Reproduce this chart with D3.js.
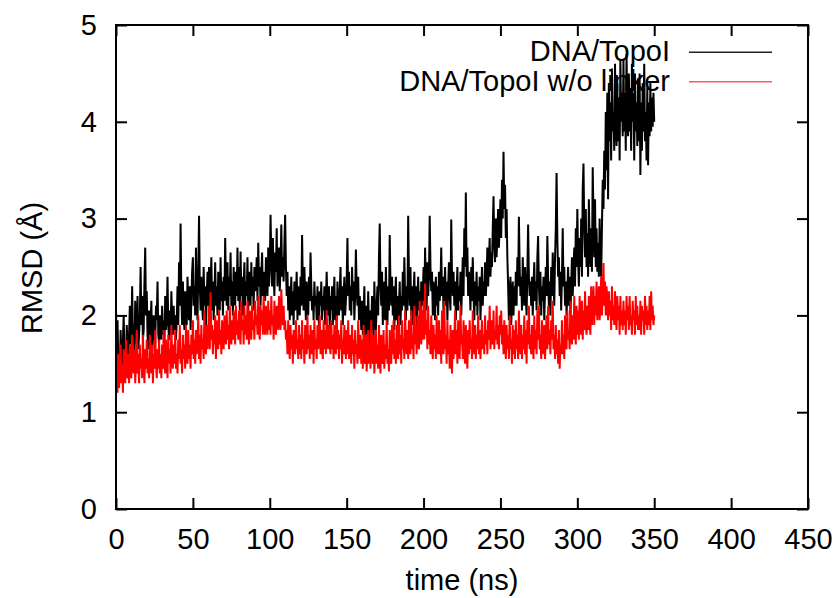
<!DOCTYPE html>
<html>
<head>
<meta charset="utf-8">
<script src="https://cdn.jsdelivr.net/npm/d3@7"></script>
<style>
  body { margin: 0; background: #fff; }
  svg { display: block; font-family: "Liberation Sans", Arial, Helvetica, sans-serif; }
</style>
</head>
<body>
<svg width="840" height="598"></svg>
<script>
// RMSD (Å), one sample every 0.5 ns from 0 to 350 ns (20 values per row = 10 ns)
var dt = 0.5;
var topoI = [
  2.05,1.7,1.95,1.5,1.6,1.4,1.85,1.55,1.45,1.75,2.0,1.6,1.7,1.5,1.9,1.65,1.55,1.8,2.1,1.7,
  1.8,2.3,1.75,1.9,1.6,2.15,1.85,1.7,2.2,1.65,1.8,2.0,2.5,1.9,2.2,1.75,1.85,2.35,2.7,2.0,
  2.25,1.8,1.65,2.05,1.7,1.9,2.15,1.6,1.75,2.0,1.85,1.7,2.1,1.95,2.35,1.8,1.7,2.0,1.85,1.75,
  2.1,1.8,1.95,1.7,2.2,1.85,2.0,2.4,1.9,1.75,2.05,1.8,2.25,1.95,1.8,2.1,1.85,2.0,1.75,1.95,
  2.3,1.9,2.55,2.1,2.95,2.2,1.9,2.35,2.0,1.85,2.25,2.05,1.9,2.4,2.1,1.95,2.3,1.85,2.15,2.45,
  2.6,2.1,2.3,2.0,2.7,2.2,1.95,2.45,3.03,2.3,2.05,2.4,2.15,1.95,2.5,2.1,2.3,1.9,2.2,2.45,
  2.1,2.5,2.0,2.3,2.6,2.05,2.35,1.95,2.2,2.55,2.1,2.3,2.0,2.45,2.2,2.05,2.6,2.15,2.35,2.0,
  2.4,2.15,2.8,2.3,2.1,2.55,2.05,2.4,2.2,2.65,2.1,2.35,2.0,2.5,2.25,2.1,2.45,2.2,2.7,2.15,
  2.5,2.05,2.66,2.2,2.4,2.0,2.3,2.55,2.1,2.35,2.2,2.6,2.05,2.45,2.3,2.1,2.55,2.2,2.4,2.05,
  2.5,2.25,2.35,2.6,2.15,2.75,2.3,2.5,2.1,2.4,2.65,2.2,2.45,2.3,2.15,2.6,2.35,2.2,2.7,2.3,
  2.5,3.04,2.6,2.3,2.8,2.4,2.2,2.65,2.45,2.9,2.3,2.55,2.7,2.25,2.5,2.94,2.4,2.6,2.35,2.75,
  3.04,2.5,2.2,2.45,2.05,2.3,1.95,2.15,2.4,2.0,2.25,1.9,2.35,2.05,2.2,2.45,1.95,2.3,2.1,2.0,
  2.4,2.1,2.83,2.3,2.05,2.5,2.2,1.95,2.35,2.1,2.0,2.4,2.15,2.65,2.3,2.05,2.2,1.95,2.35,2.1,
  2.2,1.95,2.3,2.05,1.9,2.25,2.1,2.35,1.95,2.2,2.05,2.3,1.9,2.15,2.45,2.1,2.0,2.3,1.85,2.2,
  2.05,2.3,1.9,2.15,2.4,1.95,2.2,1.85,2.35,2.1,2.0,2.25,2.5,2.05,2.3,1.9,2.2,2.4,2.0,2.15,
  2.35,2.8,2.2,2.45,2.05,2.3,2.0,2.5,2.15,2.35,1.95,2.2,2.68,2.3,2.1,2.4,1.95,2.2,2.05,1.85,
  2.15,1.8,2.0,2.3,1.75,1.95,2.1,1.8,2.25,1.9,1.7,2.05,1.85,2.2,1.95,1.75,2.35,2.0,1.85,2.1,
  2.3,2.0,2.6,2.95,2.3,2.1,2.45,1.9,2.2,2.35,1.95,2.5,2.1,1.9,2.3,2.05,2.83,2.3,2.1,2.4,
  2.0,2.3,1.85,2.15,2.4,1.95,2.2,1.8,2.1,2.35,1.9,2.2,2.05,2.45,2.1,2.6,2.2,1.95,2.3,2.05,
  3.03,2.4,2.1,2.5,2.0,2.3,1.9,2.2,2.45,2.0,2.3,1.85,2.15,2.4,2.05,2.25,1.95,2.35,2.1,2.2,
  2.5,2.1,2.7,2.3,2.05,2.55,2.2,2.4,3.03,2.5,2.25,2.45,2.0,2.35,2.15,1.95,2.4,2.1,2.3,2.0,
  2.45,2.15,2.3,2.7,2.2,2.4,2.0,2.25,2.5,2.1,2.35,1.95,2.3,2.55,2.2,2.05,2.99,2.4,2.2,2.45,
  2.1,2.35,1.95,2.25,2.5,2.05,2.3,2.15,2.45,2.0,2.3,2.6,2.2,2.9,2.5,3.27,2.4,2.7,2.2,2.45,
  2.3,2.05,2.5,2.15,2.6,2.2,1.95,2.35,2.1,2.45,2.0,2.3,2.15,2.4,1.95,2.25,2.5,2.1,2.35,2.2,
  2.55,2.2,2.4,2.7,2.3,2.55,2.8,2.4,2.65,2.5,2.9,3.23,2.7,2.55,3.0,2.6,2.85,3.1,2.7,2.95,
  3.2,2.8,3.4,3.0,3.69,3.1,3.35,2.8,3.1,2.6,2.3,1.95,2.25,2.4,1.9,2.15,2.35,2.0,2.3,2.1,
  2.45,2.1,2.6,2.3,3.02,2.5,2.2,2.4,2.05,2.6,2.3,2.1,2.5,2.2,2.0,2.45,2.94,2.4,2.2,2.35,
  2.1,2.4,2.0,2.3,2.55,2.15,2.35,2.05,2.6,2.82,2.3,2.1,2.45,2.0,2.3,2.15,2.4,1.95,2.25,2.5,
  2.2,2.82,2.4,2.1,2.35,2.0,2.5,2.2,2.65,2.35,2.1,2.6,2.9,3.47,2.8,2.4,2.6,2.2,2.45,2.05,
  2.4,2.9,2.3,2.5,2.1,2.35,2.0,2.25,2.5,2.1,2.4,2.0,2.3,2.6,2.2,2.45,2.7,2.3,2.9,2.5,
  3.1,2.6,2.3,2.8,2.5,3.0,2.4,3.3,3.57,2.9,2.6,3.1,2.5,2.85,2.4,3.2,2.7,2.5,2.9,2.45,
  3.53,3.0,2.6,3.2,2.5,2.9,2.45,2.75,2.4,3.0,2.6,2.4,2.9,3.4,3.1,3.7,3.3,4.1,3.5,4.3,
  3.2,4.4,3.8,4.2,3.6,4.55,3.9,4.1,3.7,4.6,4.0,3.75,4.4,3.8,4.25,3.6,4.65,4.0,4.3,3.85,
  4.65,3.9,4.3,3.7,4.7,4.1,3.85,4.5,3.9,4.35,3.7,4.6,4.0,4.3,3.6,4.5,3.9,4.2,3.75,4.45,
  3.8,4.5,3.45,4.2,3.7,4.4,3.9,4.6,3.8,4.1,3.6,4.35,3.55,4.2,3.85,4.4,3.9,4.25,3.95,4.3,
  4.0
];
var noLinker = [
  1.55,1.3,1.2,1.6,1.25,1.45,1.7,1.3,1.5,1.2,1.65,1.4,1.3,1.75,1.45,1.35,1.6,1.3,1.7,1.45,
  1.35,1.8,1.5,1.4,1.65,1.3,1.55,1.85,1.4,1.6,1.3,1.7,1.45,1.55,1.35,1.8,1.5,1.3,1.65,1.45,
  1.75,1.4,1.55,1.35,1.8,1.5,1.4,1.7,1.3,1.6,1.45,1.85,1.5,1.35,1.65,1.45,1.75,1.4,1.6,1.35,
  1.7,1.45,1.85,1.5,1.4,1.75,1.55,1.35,1.8,1.5,1.65,1.4,1.9,1.55,1.45,1.7,1.5,1.85,1.45,1.6,
  1.4,1.75,1.55,1.9,1.5,1.65,1.4,1.8,1.55,1.7,1.45,1.9,1.6,1.5,1.85,1.55,1.7,1.45,1.8,1.6,
  1.95,1.55,1.75,1.5,1.85,1.6,1.7,2.0,1.55,1.8,1.5,1.9,1.65,1.75,1.55,2.05,1.7,1.6,1.9,1.65,
  1.8,2.1,1.65,2.24,1.75,1.9,1.6,1.85,1.7,2.0,1.55,1.95,1.75,1.65,2.05,1.7,1.85,1.6,1.95,1.75,
  1.65,2.0,1.8,1.7,2.05,1.75,1.9,1.65,2.1,1.8,1.7,1.95,1.75,2.05,1.85,1.7,2.1,1.8,1.95,1.75,
  2.05,1.8,1.7,2.15,1.85,1.95,1.7,2.1,1.8,2.0,1.75,2.15,1.85,1.7,2.05,1.9,1.75,2.1,1.85,1.95,
  1.75,2.15,1.9,2.0,1.8,2.2,1.85,1.75,2.1,1.9,2.05,1.8,2.2,1.9,1.8,2.1,1.95,1.8,2.15,1.85,
  2.05,1.8,2.2,1.9,2.0,1.75,2.15,1.9,1.8,2.1,2.0,1.85,2.2,1.95,1.85,2.27,2.0,1.9,2.1,1.85,
  1.95,1.75,1.85,1.6,1.95,1.7,1.55,1.9,1.65,1.8,1.5,1.85,1.7,1.6,1.95,1.65,1.75,1.55,1.9,1.6,
  1.8,1.55,1.95,1.65,1.75,1.5,1.9,1.7,1.6,2.0,1.65,1.8,1.55,1.9,1.7,1.6,1.85,1.5,1.95,1.65,
  1.75,1.55,1.9,1.65,1.8,2.0,1.6,1.85,1.7,1.55,1.95,1.65,1.85,1.6,2.05,1.75,1.65,1.9,1.7,1.6,
  1.95,1.65,1.8,1.55,1.9,1.7,1.6,2.0,1.65,1.85,1.55,1.8,1.65,1.95,1.5,1.75,1.6,1.9,1.7,1.55,
  1.85,1.6,1.95,1.55,1.8,1.7,1.5,1.9,1.6,1.75,1.45,1.85,1.6,1.7,1.5,1.95,1.65,1.55,1.8,1.5,
  1.75,1.45,1.9,1.6,1.5,1.8,1.42,1.65,1.85,1.5,1.7,1.45,1.95,1.6,1.5,1.8,1.4,1.65,1.85,1.5,
  1.7,1.45,1.9,1.55,1.4,1.8,1.6,1.5,1.85,1.45,1.7,1.55,1.95,1.5,1.65,1.42,1.85,1.6,1.5,1.9,
  1.6,1.95,1.55,1.75,1.5,1.9,1.65,1.55,2.0,1.6,1.8,1.5,1.95,1.65,1.75,1.55,2.05,1.7,1.6,1.85,
  1.55,1.95,1.7,1.6,2.05,1.65,1.8,1.55,2.1,1.7,1.9,1.6,2.0,1.75,1.65,2.15,1.8,1.7,2.05,1.75,
  2.15,1.75,2.33,1.8,1.95,1.65,2.1,1.7,1.85,1.6,2.0,1.7,1.55,1.9,1.65,1.8,1.55,2.0,1.7,1.6,
  1.95,1.6,1.85,1.5,2.05,1.7,1.6,2.15,1.65,1.8,1.5,1.95,1.6,1.75,1.45,1.9,1.6,1.4,1.85,1.55,
  1.75,2.05,1.6,1.85,1.5,1.95,1.65,1.55,2.1,1.7,1.8,1.55,1.95,1.65,1.5,1.9,1.6,1.45,1.85,1.6,
  1.95,1.65,1.75,1.55,2.05,1.7,1.6,1.9,1.55,1.8,1.65,2.0,1.6,1.85,1.55,1.75,1.95,1.65,1.8,1.6,
  2.0,1.7,1.85,1.6,1.95,1.75,2.1,1.65,1.8,1.95,1.7,2.05,1.65,1.85,1.75,2.1,1.7,1.9,1.65,2.0,
  1.8,2.05,1.7,1.9,1.6,1.95,1.75,1.55,1.9,1.65,1.8,1.55,2.0,1.65,1.75,1.5,1.9,1.6,1.85,1.55,
  1.95,1.65,1.8,1.55,2.05,1.7,1.6,1.9,1.55,1.8,1.65,2.0,1.6,1.85,1.5,1.95,1.7,2.1,1.65,1.8,
  1.6,1.9,1.7,1.55,2.0,1.65,1.85,1.6,2.05,1.75,2.1,1.65,1.8,1.55,1.95,1.7,1.6,1.9,1.55,1.8,
  2.0,1.65,2.1,1.7,1.85,1.6,1.95,1.75,2.15,1.65,1.8,1.55,1.9,1.6,1.75,1.5,1.85,1.45,1.7,1.6,
  1.95,1.6,1.8,1.55,2.0,1.7,1.65,2.05,1.75,1.85,1.65,2.15,1.8,1.7,2.0,1.75,2.2,1.85,1.7,2.1,
  1.8,2.05,1.75,2.2,1.9,1.8,2.15,1.75,2.05,1.85,2.25,1.9,1.8,2.1,1.85,2.2,1.95,1.8,2.3,1.9,
  2.1,2.3,1.9,2.2,2.0,2.35,1.95,2.15,2.3,1.95,2.1,2.4,2.0,2.25,2.54,2.1,2.35,2.0,2.3,2.15,
  1.95,2.25,2.0,2.15,1.85,2.3,1.95,2.1,1.9,2.25,2.0,1.85,2.2,1.95,2.1,1.8,2.2,1.9,2.05,1.85,
  2.15,1.9,2.05,1.8,2.2,1.95,2.1,1.85,2.2,1.9,2.0,1.8,2.15,1.95,2.05,1.8,2.2,1.9,2.1,1.85,
  2.0,1.85,2.15,1.8,2.1,1.95,2.05,1.8,2.2,1.9,2.1,1.85,2.05,1.9,2.2,1.85,2.25,1.95,2.1,1.9,
  2.0
];
var seriesNames = ['DNA/TopoI', 'DNA/TopoI w/o linker'];
var seriesColors = ['#000000', '#ff0000'];
var legendColors = ['#222222', '#ff5a5a'];
var xTicks = [0, 50, 100, 150, 200, 250, 300, 350, 400, 450];
var yTicks = [0, 1, 2, 3, 4, 5];

var svg = d3.select('svg');
var margin = {top: 25, left: 116, right: 32, bottom: 89};
var w = 840, h = 598;
var width = w - margin.left - margin.right;
var height = h - margin.top - margin.bottom;
var fontSize = '29px';

var x = d3.scaleLinear().domain([0, 450]).range([0, width]);
var y = d3.scaleLinear().domain([0, 5]).range([height, 0]);

var g = svg.append('g')
  .attr('transform', 'translate(' + [margin.left, margin.top] + ')');

g.append('clipPath').attr('id', 'plot-clip')
  .append('rect').attr('width', width).attr('height', height);

var line = d3.line()
  .x(function (d, i) { return x(i * dt); })
  .y(function (d) { return y(d); });

var plot = g.append('g').attr('clip-path', 'url(#plot-clip)');
[topoI, noLinker].forEach(function (s, k) {
  plot.append('path')
    .datum(s)
    .attr('d', line)
    .style('fill', 'none')
    .style('stroke', seriesColors[k])
    .style('stroke-width', '2px');
});

// ticks point inward and are mirrored on top and right
var tickLen = 11;
g.append('g').attr('transform', 'translate(0,' + height + ')')
  .call(d3.axisBottom(x).tickValues(xTicks).tickSize(-tickLen).tickPadding(19));
g.append('g')
  .call(d3.axisTop(x).tickValues(xTicks).tickSize(-tickLen).tickFormat(''));
g.append('g')
  .call(d3.axisLeft(y).tickValues(yTicks).tickSize(-tickLen).tickPadding(19).tickFormat(d3.format('d')));
g.append('g').attr('transform', 'translate(' + width + ',0)')
  .call(d3.axisRight(y).tickValues(yTicks).tickSize(-tickLen).tickFormat(''));

g.selectAll('.domain').remove();
g.selectAll('.tick line').style('stroke', '#000').style('stroke-width', '2px');
g.selectAll('.tick text')
  .style('font-family', '"Liberation Sans", Arial, sans-serif')
  .style('font-size', fontSize)
  .style('fill', '#000');

g.append('rect')
  .attr('width', width).attr('height', height)
  .style('fill', 'none').style('stroke', '#000').style('stroke-width', '2px');

// legend
var legend = g.selectAll('.legend').data(seriesNames).enter()
  .append('g').attr('class', 'legend')
  .attr('transform', function (d, i) { return 'translate(0,' + (27.3 + i * 29.4) + ')'; });
legend.append('text')
  .attr('x', 554).attr('y', 9)
  .style('text-anchor', 'end')
  .style('font-size', fontSize)
  .text(function (d) { return d; });
legend.append('line')
  .attr('x1', 573).attr('x2', 656)
  .style('stroke', function (d, i) { return legendColors[i]; })
  .style('stroke-width', '1.5px');

// axis titles
svg.append('text')
  .attr('x', margin.left + width / 2)
  .attr('y', 590)
  .style('text-anchor', 'middle')
  .style('font-size', fontSize)
  .text('time (ns)');
svg.append('text')
  .attr('transform', 'translate(42,268) rotate(-90)')
  .style('text-anchor', 'middle')
  .style('font-size', fontSize)
  .text('RMSD (Å)');
</script>
</body>
</html>
